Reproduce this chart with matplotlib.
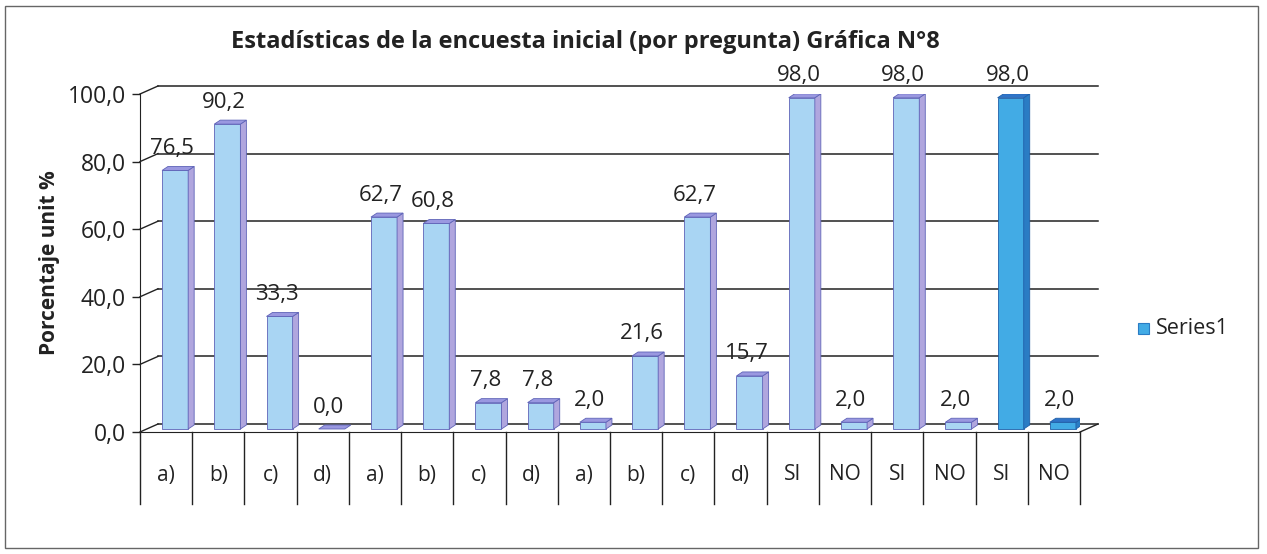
import matplotlib
matplotlib.use('Agg')
import matplotlib.pyplot as plt
from matplotlib.patches import Polygon, Rectangle

# datos de la gráfica
categories = ['a)', 'b)', 'c)', 'd)', 'a)', 'b)', 'c)', 'd)', 'a)', 'b)', 'c)', 'd)',
              'SI', 'NO', 'SI', 'NO', 'SI', 'NO']
values = [76.5, 90.2, 33.3, 0.0, 62.7, 60.8, 7.8, 7.8, 2.0, 21.6, 62.7, 15.7,
          98.0, 2.0, 98.0, 2.0, 98.0, 2.0]
yticks = [0, 20, 40, 60, 80, 100]
title = 'Estadísticas de la encuesta inicial (por pregunta) Gráfica N°8'
ylabel = 'Porcentaje unit %'
series_name = 'Series1'

plt.rcParams['font.family'] = ['Open Sans', 'DejaVu Sans']

W, H = 1267, 554
fig = plt.figure(figsize=(W / 100, H / 100), dpi=100)
fig.patch.set_facecolor('white')

# área del gráfico (en píxeles)
left, right, bottom, top = 140, 1080, 432, 94
ax = fig.add_axes([left / W, 1 - bottom / H, (right - left) / W, (bottom - top) / H])
ax.set_xlim(-0.5, len(values) - 0.5)
ax.set_ylim(0, 100)
ax.set_facecolor('none')

# conversion píxel -> datos
px = len(values) / (right - left)
py = 100 / (bottom - top)

# pared trasera (efecto 3D)
DX, DY = 18, 8
x0, x1 = -0.5, len(values) - 0.5
for y in yticks:
    ax.plot([x0 + DX * px, x1 + DX * px], [y + DY * py] * 2, color='#222222', lw=1.1,
            clip_on=False, zorder=1)
    ax.plot([x0, x0 + DX * px], [y, y + DY * py], color='#222222', lw=1.0,
            clip_on=False, zorder=1)
ax.plot([x1, x1 + DX * px], [0, DY * py], color='#222222', lw=1.0, clip_on=False, zorder=1)

# barras con caras laterales
bx, by = 9, 3
sdx, sdy = 6, 4
bw = 0.5
for i, v in enumerate(values):
    if i >= 16:
        front, side, topc, edge = '#42ABE5', '#2A7CC4', '#2F74C8', '#1F5FA8'
    else:
        front, side, topc, edge = '#A9D5F3', '#B0A6DE', '#9A98E0', '#5F64B8'
    xl = i + bx * px - bw / 2
    xr = xl + bw
    b = by * py
    t = b + v
    if v > 0:
        ax.add_patch(Rectangle((xl, b), bw, v, facecolor=front, edgecolor=edge, lw=0.6,
                               zorder=3))
        ax.add_patch(Polygon([(xr, b), (xr + sdx * px, b + sdy * py),
                              (xr + sdx * px, t + sdy * py), (xr, t)],
                             closed=True, facecolor=side, edgecolor=edge, lw=0.6, zorder=3))
    ax.add_patch(Polygon([(xl, t), (xr, t), (xr + sdx * px, t + sdy * py),
                          (xl + sdx * px, t + sdy * py)],
                         closed=True, facecolor=topc, edgecolor=edge, lw=0.6, zorder=3))
    ax.text(i + bx * px - 3 * px, v + 25 * py, f'{v:.1f}'.replace('.', ','),
            ha='center', va='center', fontsize=16, color='#222222', zorder=4)

# eje X: divisiones y etiquetas
for k in range(len(values) + 1):
    ax.plot([k - 0.5] * 2, [0, -72 * py], color='#222222', lw=1.0, clip_on=False)
for i, c in enumerate(categories):
    ax.text(i, -43 * py, c, ha='center', va='center', fontsize=15, color='#222222')

# eje Y
ax.set_xticks([])
ax.set_yticks(yticks)
ax.set_yticklabels([f'{y:.1f}'.replace('.', ',') for y in yticks], fontsize=16.5,
                   color='#222222')
ax.tick_params(axis='y', length=6, width=1.0, pad=4, color='#222222')
for s in ['top', 'right']:
    ax.spines[s].set_visible(False)
ax.spines['left'].set_color('#222222')
ax.spines['bottom'].set_color('#222222')

# textos
fig.text(585 / W, 1 - 42 / H, title, ha='center', va='center', fontsize=17,
         fontweight='bold', color='#222222')
fig.text(50 / W, 1 - 263 / H, ylabel, ha='center', va='center', rotation=90,
         fontsize=15, fontweight='bold', color='#222222')

# leyenda
fig.add_artist(Rectangle((1138 / W, 1 - 334 / H), 11 / W, 11 / H, transform=fig.transFigure,
                         facecolor='#42ABE5', edgecolor='#2A7CC4', lw=0.8))
fig.text(1156 / W, 1 - 329 / H, series_name, ha='left', va='center', fontsize=15.5,
         color='#222222')

# marco exterior
fig.add_artist(Rectangle((5 / W, 6 / H), 1253 / W, 542 / H, transform=fig.transFigure,
                         fill=False, edgecolor='#666666', lw=1.0))

fig.savefig('out.png', dpi=100)
